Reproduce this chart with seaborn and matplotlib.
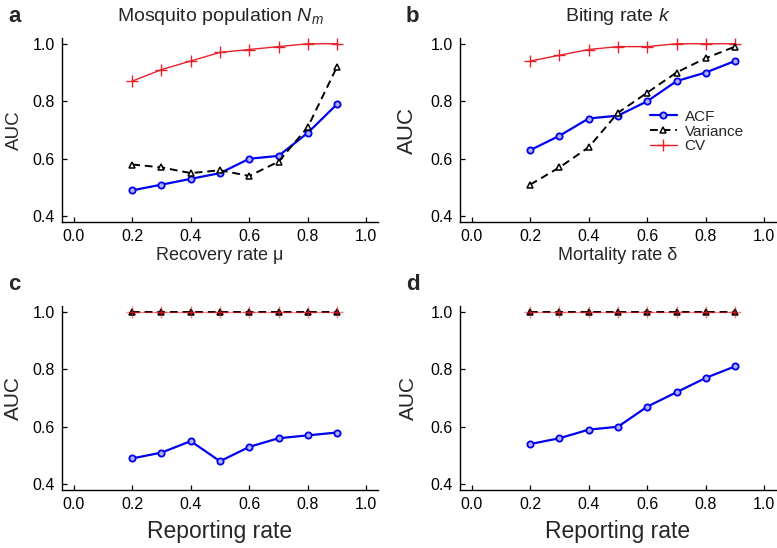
import matplotlib
matplotlib.use('Agg')
import matplotlib.pyplot as plt
import numpy as np
import pandas as pd
import seaborn as sns

sns.set_style('ticks')
plt.rcParams['font.family'] = ['Liberation Sans', 'DejaVu Sans']
plt.rcParams['mathtext.fontset'] = 'custom'
plt.rcParams['mathtext.rm'] = 'Liberation Sans'
plt.rcParams['mathtext.it'] = 'Liberation Sans:italic'

# data
rates = [0.2, 0.3, 0.4, 0.5, 0.6, 0.7, 0.8, 0.9]

a_acf = [0.49, 0.51, 0.53, 0.55, 0.60, 0.61, 0.69, 0.79]
a_var = [0.58, 0.57, 0.55, 0.56, 0.54, 0.59, 0.71, 0.92]
a_cv = [0.87, 0.91, 0.94, 0.97, 0.98, 0.99, 1.00, 1.00]

b_acf = [0.63, 0.68, 0.74, 0.75, 0.80, 0.87, 0.90, 0.94]
b_var = [0.51, 0.57, 0.64, 0.76, 0.83, 0.90, 0.95, 0.99]
b_cv = [0.94, 0.96, 0.98, 0.99, 0.99, 1.00, 1.00, 1.00]

c_acf = [0.49, 0.51, 0.55, 0.48, 0.53, 0.56, 0.57, 0.58]
c_var = [1.00, 1.00, 1.00, 1.00, 1.00, 1.00, 1.00, 1.00]
c_cv = [1.00, 1.00, 1.00, 1.00, 1.00, 1.00, 1.00, 1.00]

d_acf = [0.54, 0.56, 0.59, 0.60, 0.67, 0.72, 0.77, 0.81]
d_var = [1.00, 1.00, 1.00, 1.00, 1.00, 1.00, 1.00, 1.00]
d_cv = [1.00, 1.00, 1.00, 1.00, 1.00, 1.00, 1.00, 1.00]

letters = ['a', 'b', 'c', 'd']
titles = ['Mosquito population $N_m$', 'Biting rate $k$', '', '']
xlabels = ['Recovery rate \u03bc', 'Mortality rate \u03b4', 'Reporting rate', 'Reporting rate']
x_ticks = [0.0, 0.2, 0.4, 0.6, 0.8, 1.0]
y_ticks = [0.4, 0.6, 0.8, 1.0]

panels = [(a_acf, a_var, a_cv), (b_acf, b_var, b_cv), (c_acf, c_var, c_cv), (d_acf, d_var, d_cv)]

fig = plt.figure(figsize=(7.77, 5.48), dpi=100)
W, H = 777, 548
boxes = [(62, 38, 316, 184), (460, 38, 316, 184), (62, 306, 316, 184), (460, 306, 316, 184)]
axes = [fig.add_axes([l / W, 1 - (t + h) / H, w / W, h / H]) for (l, t, w, h) in boxes]

ylabel_size = [13.5, 16, 15, 15]
ylabel_pad = [7, 9, 7, 9]

for i, ax in enumerate(axes):
    acf, var, cv = panels[i]
    top_row = i < 2
    sns.lineplot(x=rates, y=acf, ax=ax, color='#0000ee', lw=1.6, marker='o', markersize=4.5,
                 mfc='#b0b0ff', mec='#0000ee', mew=1.3, label='ACF', zorder=2.5)
    sns.lineplot(x=rates, y=var, ax=ax, color='black', lw=1.4, dashes=(4, 2.5), marker='^',
                 markersize=5, mfc='white' if top_row else '#600000', mec='black', mew=1.1,
                 label='Variance', zorder=3)
    sns.lineplot(x=rates, y=cv, ax=ax, color='#e8202a', lw=1.0, marker='+', markersize=8,
                 mec='#e8202a', mew=1.0, label='CV', zorder=2 if top_row else 4,
                 alpha=1.0 if top_row else 0.55)
    if ax.get_legend() is not None:
        ax.get_legend().remove()

    ax.set_xlim(-0.04, 1.04)
    ax.set_ylim(0.38, 1.02)
    ax.set_xticks(x_ticks)
    ax.set_xticklabels(['%.1f' % v for v in x_ticks], fontsize=11.5)
    ax.set_yticks(y_ticks)
    ax.set_yticklabels(['%.1f' % v for v in y_ticks], fontsize=11.5)
    ax.tick_params(direction='in', length=3.5, width=0.9, colors='black', pad=5)
    sns.despine(ax=ax)
    for s in ['left', 'bottom']:
        ax.spines[s].set_linewidth(1.0)
        ax.spines[s].set_color('black')

    if top_row:
        ax.set_xlabel(xlabels[i], fontsize=13, labelpad=2)
    else:
        ax.set_xlabel(xlabels[i], fontsize=16.5, labelpad=6)
    ax.set_ylabel('AUC', fontsize=ylabel_size[i], labelpad=ylabel_pad[i])
    if titles[i]:
        ax.set_title(titles[i], fontsize=14, pad=12)

    l, t, w, h = boxes[i]
    fig.text((8 if i % 2 == 0 else 406) / W, 1 - (t - 22) / H, letters[i],
             fontsize=16, fontweight='bold', va='center', ha='left')

handles, labels = axes[1].get_legend_handles_labels()
axes[1].legend(handles, labels, loc='upper left', bbox_to_anchor=(0.6, 0.61), frameon=False,
               fontsize=11, handlelength=1.8, handletextpad=0.5, labelspacing=0.05,
               borderpad=0, borderaxespad=0)

fig.savefig('out.png', dpi=100)
